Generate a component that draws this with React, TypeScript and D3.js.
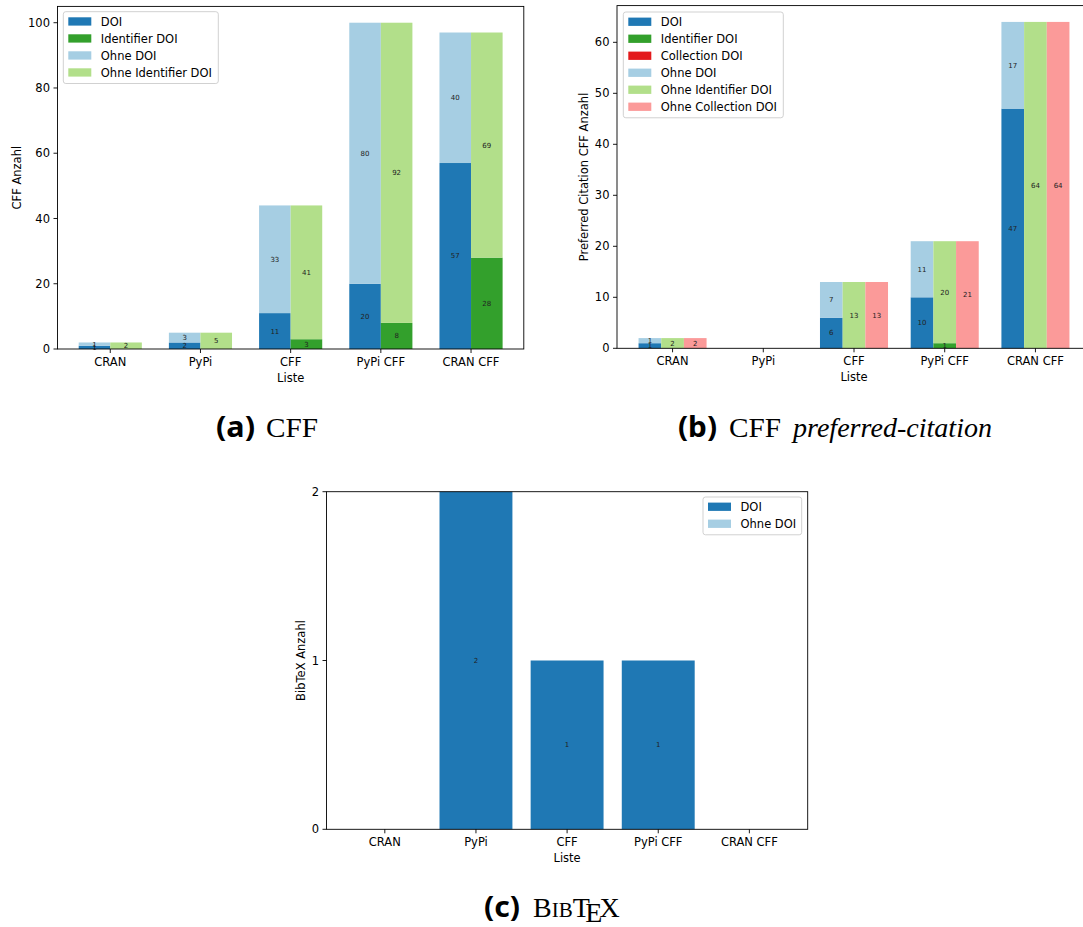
import React from "react";
import * as d3 from "d3";

const categories = ["CRAN", "PyPi", "CFF", "PyPi CFF", "CRAN CFF"];

// (a) CFF
const cffDoi = [1, 2, 11, 20, 57];
const cffOhneDoi = [1, 3, 33, 80, 40];
const cffIdDoi = [0, 0, 3, 8, 28];
const cffOhneIdDoi = [2, 5, 41, 92, 69];
const cffTicks = [0, 20, 40, 60, 80, 100];

// (b) CFF preferred-citation
const pcDoi = [1, 0, 6, 10, 47];
const pcOhneDoi = [1, 0, 7, 11, 17];
const pcIdDoi = [0, 0, 0, 1, 0];
const pcOhneIdDoi = [2, 0, 13, 20, 64];
const pcColDoi = [0, 0, 0, 0, 0];
const pcOhneColDoi = [2, 0, 13, 21, 64];
const pcTicks = [0, 10, 20, 30, 40, 50, 60];

// (c) BibTeX
const bibDoi = [0, 2, 1, 1, 0];
const bibOhneDoi = [0, 0, 0, 0, 0];
const bibTicks = [0, 1, 2];

const C = {
  darkBlue: "#1f78b4",
  lightBlue: "#a6cee3",
  darkGreen: "#33a02c",
  lightGreen: "#b2df8a",
  red: "#e31a1c",
  pink: "#fb9a99",
};

const FONT = "DejaVu Sans, sans-serif";
const FS = 11.5;

type Group = { base: number[]; top: number[]; baseColor: string; topColor: string; offset: number };
type LegendItem = { label: string; color: string };

type PanelProps = {
  left: number; right: number; top: number; bottom: number;
  xDomain: [number, number]; yMax: number; ticks: number[];
  groups: Group[]; barWidth: number; yLabel: string; yLabelX: number;
  legend: LegendItem[]; legendX: number; legendY: number; legendW: number;
};

function Panel(p: PanelProps) {
  const x = d3.scaleLinear().domain(p.xDomain).range([p.left, p.right]);
  const y = d3.scaleLinear().domain([0, p.yMax]).range([p.bottom, p.top]);
  const bw = x(p.barWidth) - x(0);
  const rowH = 17;
  const legendH = p.legend.length * rowH + 3.8;
  return (
    <g>
      {p.groups.map((g, gi) => (
        <g key={gi}>
          {categories.map((c, i) => {
            const cx = x(i + g.offset);
            const b = g.base[i];
            const t = g.top[i];
            return (
              <g key={c}>
                {b > 0 && (
                  <rect x={cx - bw / 2} y={y(b)} width={bw} height={y(0) - y(b)} fill={g.baseColor} />
                )}
                {t > 0 && (
                  <rect x={cx - bw / 2} y={y(b + t)} width={bw} height={y(b) - y(b + t)} fill={g.topColor} />
                )}
              </g>
            );
          })}
        </g>
      ))}
      {p.groups.map((g, gi) => (
        <g key={"l" + gi} fontFamily={FONT} fontSize={7} fill="#222" textAnchor="middle">
          {categories.map((c, i) => {
            const cx = x(i + g.offset);
            const b = g.base[i];
            const t = g.top[i];
            return (
              <g key={c}>
                {b > 0 && <text x={cx} y={y(b / 2)} dy="0.35em">{b}</text>}
                {t > 0 && <text x={cx} y={y(b + t / 2)} dy="0.35em">{t}</text>}
              </g>
            );
          })}
        </g>
      ))}
      {/* spines */}
      <rect x={p.left} y={p.top} width={p.right - p.left} height={p.bottom - p.top} fill="none" stroke="#000" strokeWidth={0.9} />
      {/* ticks */}
      <g fontFamily={FONT} fontSize={FS} fill="#000">
        {categories.map((c, i) => (
          <g key={c}>
            <line x1={x(i)} x2={x(i)} y1={p.bottom} y2={p.bottom + 4} stroke="#000" strokeWidth={0.9} />
            <text x={x(i)} y={p.bottom + 16.5} textAnchor="middle">{c}</text>
          </g>
        ))}
        {p.ticks.map((t) => (
          <g key={t}>
            <line x1={p.left - 4} x2={p.left} y1={y(t)} y2={y(t)} stroke="#000" strokeWidth={0.9} />
            <text x={p.left - 7.5} y={y(t)} dy="0.36em" textAnchor="end">{t}</text>
          </g>
        ))}
        <text x={(p.left + p.right) / 2} y={p.bottom + 32.5} textAnchor="middle">Liste</text>
        <text
          transform={`translate(${p.yLabelX},${(p.top + p.bottom) / 2}) rotate(-90)`}
          textAnchor="middle"
          dy="0.35em"
        >
          {p.yLabel}
        </text>
      </g>
      {/* legend */}
      <g fontFamily={FONT} fontSize={FS}>
        <rect x={p.legendX} y={p.legendY} width={p.legendW} height={legendH} rx={2.5} fill="#fff" fillOpacity={0.8} stroke="#ccc" strokeWidth={0.9} />
        {p.legend.map((it, i) => (
          <g key={it.label}>
            <rect x={p.legendX + 5} y={p.legendY + 5.6 + i * rowH} width={23} height={8.3} fill={it.color} />
            <text x={p.legendX + 37.5} y={p.legendY + 9.8 + i * rowH} dy="0.36em" fill="#000">{it.label}</text>
          </g>
        ))}
      </g>
    </g>
  );
}

export default function App() {
  const serif = "Liberation Serif, DejaVu Serif, serif";
  const bold = "Noto Sans, DejaVu Sans, sans-serif";
  return (
    <svg width={1083} height={927} style={{ position: "absolute", left: 0, top: 0, background: "#fff" }}>
      <rect width={1083} height={927} fill="#fff" />
      <Panel
        left={57.5} right={523.8} top={6.4} bottom={349}
        xDomain={[-0.585, 4.585]} yMax={105} ticks={cffTicks}
        barWidth={0.35}
        groups={[
          { base: cffDoi, top: cffOhneDoi, baseColor: C.darkBlue, topColor: C.lightBlue, offset: -0.175 },
          { base: cffIdDoi, top: cffOhneIdDoi, baseColor: C.darkGreen, topColor: C.lightGreen, offset: 0.175 },
        ]}
        yLabel="CFF Anzahl" yLabelX={16.5}
        legend={[
          { label: "DOI", color: C.darkBlue },
          { label: "Identifier DOI", color: C.darkGreen },
          { label: "Ohne DOI", color: C.lightBlue },
          { label: "Ohne Identifier DOI", color: C.lightGreen },
        ]}
        legendX={63.3} legendY={11.7} legendW={155}
      />
      <Panel
        left={617} right={1091} top={5.6} bottom={348.3}
        xDomain={[-0.6125, 4.6125]} yMax={67.2} ticks={pcTicks}
        barWidth={0.25}
        groups={[
          { base: pcDoi, top: pcOhneDoi, baseColor: C.darkBlue, topColor: C.lightBlue, offset: -0.25 },
          { base: pcIdDoi, top: pcOhneIdDoi, baseColor: C.darkGreen, topColor: C.lightGreen, offset: 0 },
          { base: pcColDoi, top: pcOhneColDoi, baseColor: C.red, topColor: C.pink, offset: 0.25 },
        ]}
        yLabel="Preferred Citation CFF Anzahl" yLabelX={584}
        legend={[
          { label: "DOI", color: C.darkBlue },
          { label: "Identifier DOI", color: C.darkGreen },
          { label: "Collection DOI", color: C.red },
          { label: "Ohne DOI", color: C.lightBlue },
          { label: "Ohne Identifier DOI", color: C.lightGreen },
          { label: "Ohne Collection DOI", color: C.pink },
        ]}
        legendX={623.3} legendY={12} legendW={160}
      />
      <Panel
        left={326.5} right={807.7} top={491.7} bottom={829.3}
        xDomain={[-0.64, 4.64]} yMax={2} ticks={bibTicks}
        barWidth={0.8}
        groups={[
          { base: bibDoi, top: bibOhneDoi, baseColor: C.darkBlue, topColor: C.lightBlue, offset: 0 },
        ]}
        yLabel="BibTeX Anzahl" yLabelX={300.5}
        legend={[
          { label: "DOI", color: C.darkBlue },
          { label: "Ohne DOI", color: C.lightBlue },
        ]}
        legendX={703} legendY={497} legendW={98.7}
      />
      {/* captions */}
      <g fill="#000">
        <text x={216} y={437} fontFamily={bold} fontWeight="bold" fontSize={28} textLength={39} lengthAdjust="spacingAndGlyphs">(a)</text>
        <text x={266} y={437} fontFamily={serif} fontSize={28} textLength={52} lengthAdjust="spacingAndGlyphs">CFF</text>

        <text x={678} y={437} fontFamily={bold} fontWeight="bold" fontSize={28} textLength={39} lengthAdjust="spacingAndGlyphs">(b)</text>
        <text x={729} y={437} fontFamily={serif} fontSize={28} textLength={52} lengthAdjust="spacingAndGlyphs">CFF</text>
        <text x={793} y={437} fontFamily={serif} fontSize={28} fontStyle="italic" textLength={199} lengthAdjust="spacingAndGlyphs">preferred-citation</text>

        <text x={484} y={917} fontFamily={bold} fontWeight="bold" fontSize={28} textLength={36} lengthAdjust="spacingAndGlyphs">(c)</text>
        <text x={533} y={917} fontFamily={serif} fontSize={28}>
          B<tspan fontSize={21}>IB</tspan>T<tspan dx={-4.5} dy={5}>E</tspan><tspan dx={-3} dy={-5}>X</tspan>
        </text>
      </g>
    </svg>
  );
}
